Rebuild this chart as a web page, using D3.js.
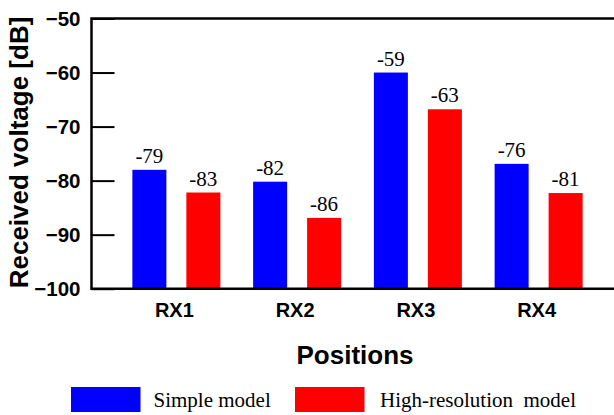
<!DOCTYPE html>
<html><head><meta charset="utf-8">
<script src="https://cdn.jsdelivr.net/npm/d3@7"></script>
<style>body{margin:0;background:#fff}svg{display:block}</style>
</head><body>
<svg id="c" width="614" height="415"></svg>
<script>
const categories = ["RX1", "RX2", "RX3", "RX4"];
const seriesNames = ["Simple model", "High-resolution  model"];
const simpleValues = [-78.0, -80.2, -60.0, -76.9];
const highResValues = [-82.2, -86.9, -66.8, -82.3];
const simpleLabels = ["-79", "-82", "-59", "-76"];
const highResLabels = ["-83", "-86", "-63", "-81"];
const yTicks = [-100, -90, -80, -70, -60, -50];
const colors = ["#0000ff", "#ff0000"];

const svg = d3.select("#c");
const L = 91.5, R = 614, T = 18.5, B = 288.7;

const y = d3.scaleLinear().domain([-100, -50]).range([B, T]);
const x0 = d3.scaleBand().domain(categories).range([116, 599]).padding(0);
const x1 = d3.scaleBand().domain(seriesNames).range([0, 88]).paddingInner(0.37).paddingOuter(0);

const data = categories.map((c, i) => ({
  cat: c,
  vals: [
    {s: seriesNames[0], v: simpleValues[i], lab: simpleLabels[i], col: colors[0]},
    {s: seriesNames[1], v: highResValues[i], lab: highResLabels[i], col: colors[1]}
  ]
}));

const g = svg.append("g");
const grp = g.selectAll("g.grp").data(data).join("g")
  .attr("transform", d => `translate(${x0(d.cat) + x0.bandwidth()/2 - 44},0)`);
grp.selectAll("rect").data(d => d.vals).join("rect")
  .attr("x", d => x1(d.s)).attr("width", x1.bandwidth())
  .attr("y", d => y(d.v)).attr("height", d => B - y(d.v))
  .attr("fill", d => d.col);
grp.selectAll("text").data(d => d.vals).join("text")
  .attr("x", d => x1(d.s) + x1.bandwidth()/2)
  .attr("y", d => y(d.v) - 7)
  .attr("text-anchor", "middle")
  .attr("font-family", "'Liberation Serif','Times New Roman',serif")
  .attr("font-size", 21).attr("fill", "#000")
  .text(d => d.lab);

// Y axis
const ya = svg.append("g").attr("transform", `translate(${L},0)`)
  .call(d3.axisLeft(y).tickValues(yTicks).tickSizeInner(-23).tickSizeOuter(0).tickFormat(d3.format("d")));
ya.select(".domain").remove();
ya.selectAll(".tick line").attr("stroke", "#000").attr("stroke-width", 2);
ya.selectAll(".tick text").attr("x", -11).attr("text-anchor", "end")
  .attr("font-family", "'Liberation Sans',Arial,sans-serif").attr("font-weight", "bold")
  .attr("font-size", 20.5).attr("fill", "#000");

// X axis labels
const xa = svg.append("g").attr("transform", `translate(${-2},${B})`)
  .call(d3.axisBottom(x0).tickSize(0).tickPadding(0));
xa.select(".domain").remove();
xa.selectAll(".tick text").attr("dy", null).attr("y", 28)
  .attr("font-family", "'Liberation Sans',Arial,sans-serif").attr("font-weight", "bold")
  .attr("font-size", 20).attr("fill", "#000");

// frame lines (left, top, bottom)
svg.append("path")
  .attr("d", `M${R},${T}H${L}V${B}H${R}`)
  .attr("fill", "none").attr("stroke", "#000").attr("stroke-width", 2.5);

// titles
svg.append("text").attr("x", 355).attr("y", 364).attr("text-anchor", "middle")
  .attr("font-family", "'Liberation Sans',Arial,sans-serif").attr("font-weight", "bold")
  .attr("font-size", 26).text("Positions");
svg.append("text").attr("transform", "translate(27.5,152.5) rotate(-90)").attr("text-anchor", "middle")
  .attr("font-family", "'Liberation Sans',Arial,sans-serif").attr("font-weight", "bold")
  .attr("font-size", 26).text("Received voltage [dB]");

// legend
const legX = [71, 295];
const leg = svg.append("g").selectAll("g").data(seriesNames).join("g")
  .attr("transform", (d, i) => `translate(${legX[i]},387)`);
leg.append("rect").attr("width", 69.5).attr("height", 25).attr("fill", (d, i) => colors[i]);
leg.append("text").attr("x", (d, i) => i === 0 ? 82.5 : 85).attr("y", 19.7)
  .attr("font-family", "'Liberation Serif','Times New Roman',serif")
  .attr("font-size", 21).style("white-space", "pre").attr("xml:space", "preserve")
  .text(d => d);
</script>
</body></html>
